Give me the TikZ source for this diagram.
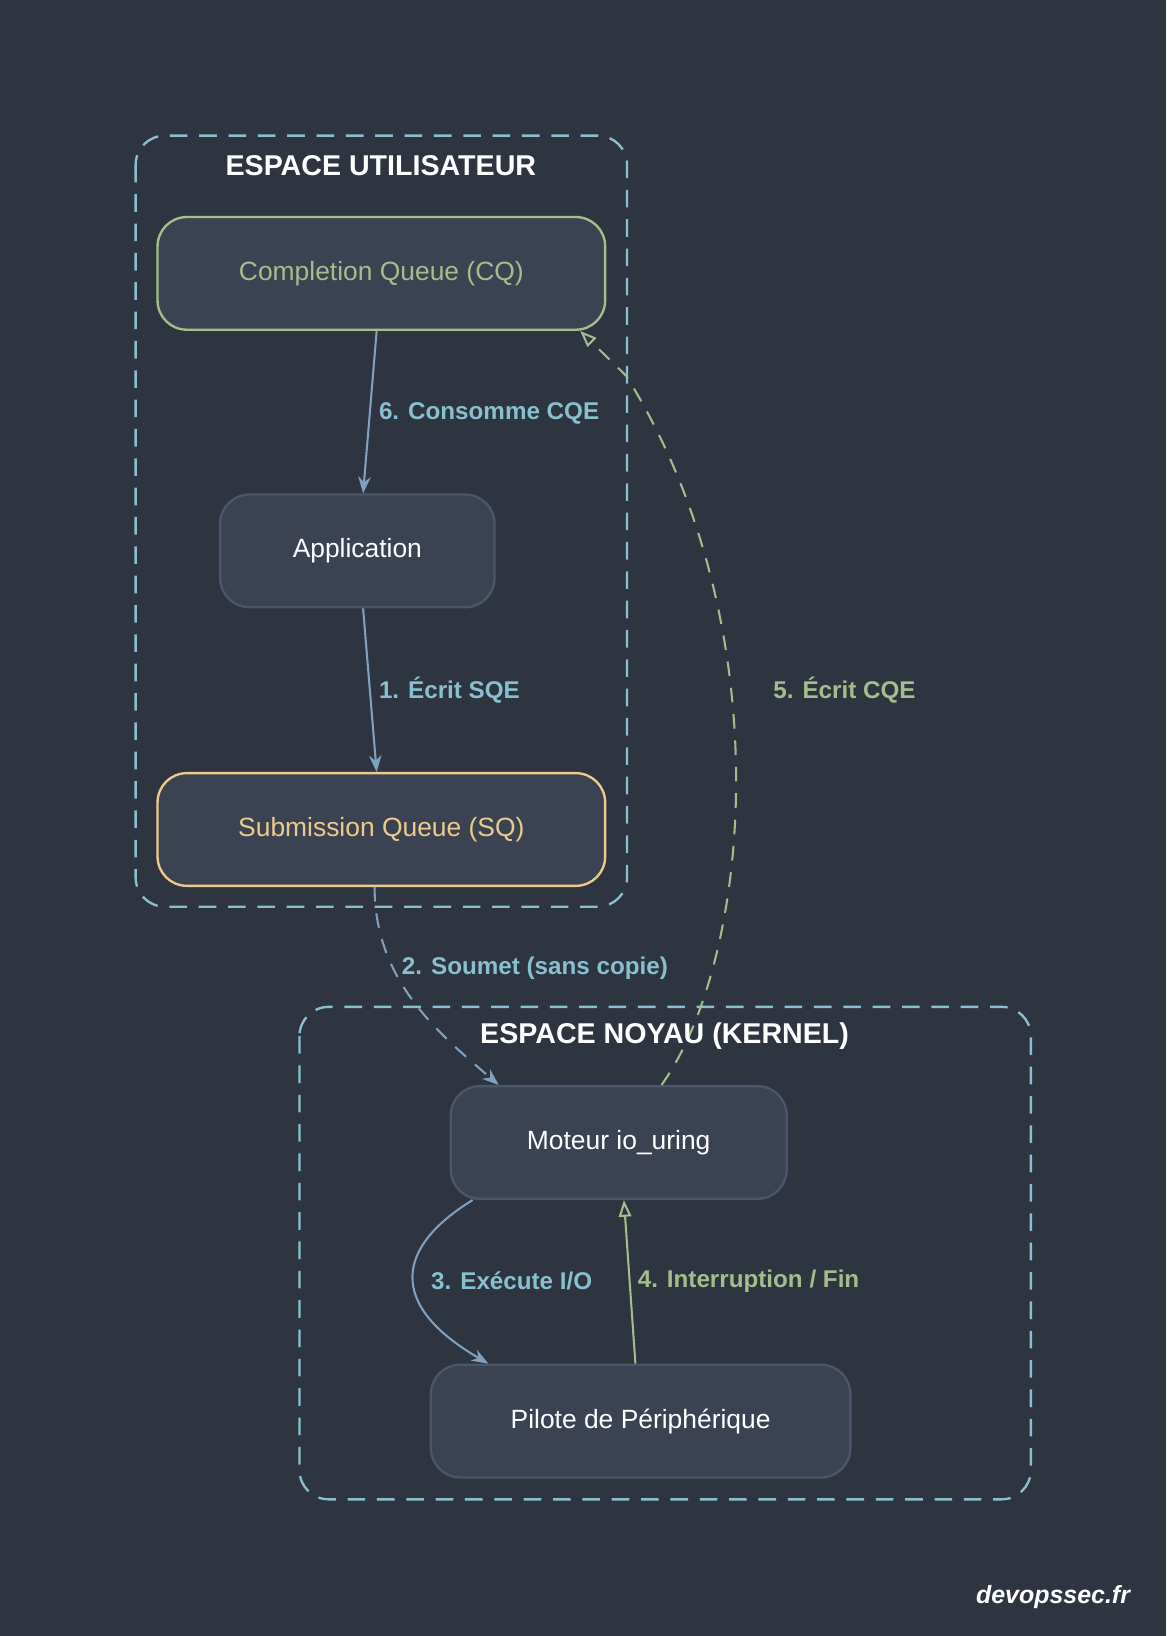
\documentclass[tikz,border=0pt]{standalone}
\usepackage{fontspec}
\setmainfont{Liberation Sans}
\usetikzlibrary{arrows.meta,positioning,backgrounds}
\definecolor{bgc}{HTML}{2E3440}
\definecolor{nodefill}{HTML}{3B4252}
\definecolor{nodeline}{HTML}{4C566A}
\definecolor{frost}{HTML}{88C0D0}
\definecolor{blueline}{HTML}{81A1C1}
\definecolor{green}{HTML}{A3BE8C}
\definecolor{yellow}{HTML}{EBCB8B}
\tikzset{
  box/.style={draw=nodeline, line width=1.6pt, fill=nodefill, rounded corners=0.7cm,
    text=white, font=\fontsize{18}{20}\selectfont, inner sep=0pt},
  cluster/.style={draw=frost, line width=1.6pt, dash pattern=on 12pt off 8pt, rounded corners=0.7cm},
  title/.style={text=white, font=\bfseries\fontsize{19.5}{22}\selectfont},
  lbl/.style={anchor=west, font=\bfseries\fontsize{16.5}{18}\selectfont, inner sep=0pt},
  flow/.style={draw=blueline, line width=1.4pt, -{Stealth[length=4mm,width=3mm]}},
  back/.style={draw=green, line width=1.4pt, -{Triangle[open,length=4mm,width=3mm]}},
}
\begin{document}
\begin{tikzpicture}[x=0.025cm,y=-0.025cm]
  \useasboundingbox[fill=bgc] (0,0) rectangle (1118,1568);
  % Clusters
  \draw[cluster] (130,130) rectangle (601,869);
  \node[title] (tuser) at (365,159) {ESPACE UTILISATEUR};
  \draw[cluster] (287,965) rectangle (988,1437);
  % Nodes
  \node[box, draw=green, text=green, minimum width=429*0.025cm, minimum height=108*0.025cm] (cq) at (365.5,262) {Completion Queue (CQ)};
  \node[box, minimum width=263*0.025cm, minimum height=108*0.025cm] (app) at (342.5,528) {Application};
  \node[box, draw=yellow, text=yellow, minimum width=429*0.025cm, minimum height=108*0.025cm] (sq) at (365.5,795) {Submission Queue (SQ)};
  \node[box, minimum width=322*0.025cm, minimum height=108*0.025cm] (eng) at (593,1095) {Moteur io\_uring};
  \node[box, minimum width=402*0.025cm, minimum height=108*0.025cm] (drv) at (614,1362) {Pilote de Périphérique};
  % Edges
  \draw[flow] (cq.south -| 361,0) -- (app.north -| 348,0);
  \node[lbl, text=frost] (l6) at (363,396) {6. Consomme CQE};
  \draw[flow] (app.south -| 348,0) -- (sq.north -| 361,0);
  \node[lbl, text=frost] (l1) at (363,661) {1. Écrit SQE};
  \draw[flow, dash pattern=on 10pt off 8pt] (sq.south -| 359,0) .. controls (359,940) and (420,990) .. (eng.north -| 478,0);
  \node[lbl, text=frost] (l2) at (385,928) {2. Soumet (sans copie)};
  \draw[flow] (eng.south -| 453,0) .. controls (380,1195) and (370,1250) .. (drv.north -| 468,0);
  \node[lbl, text=frost] (l3) at (413,1228) {3. Exécute I/O};
  \draw[back] (drv.north -| 609,0) -- (eng.south -| 598,0);
  \node[lbl, text=green] (l4) at (611,1228) {4. Interruption / Fin};
  \draw[back, dash pattern=on 10pt off 8pt] (eng.north -| 634,0) .. controls (720,920) and (750,600) .. (600,360) -- (cq.south -| 556,0);
  \node[lbl, text=green] (l5) at (741,661) {5. Écrit CQE};
  \node[title] (tkern) at (637,993) {ESPACE NOYAU (KERNEL)};
  % Watermark
  \node[anchor=east, text=white, font=\bfseries\itshape\fontsize{17}{19}\selectfont] (wm) at (1088,1531) {devopssec.fr};
\end{tikzpicture}
\end{document}
